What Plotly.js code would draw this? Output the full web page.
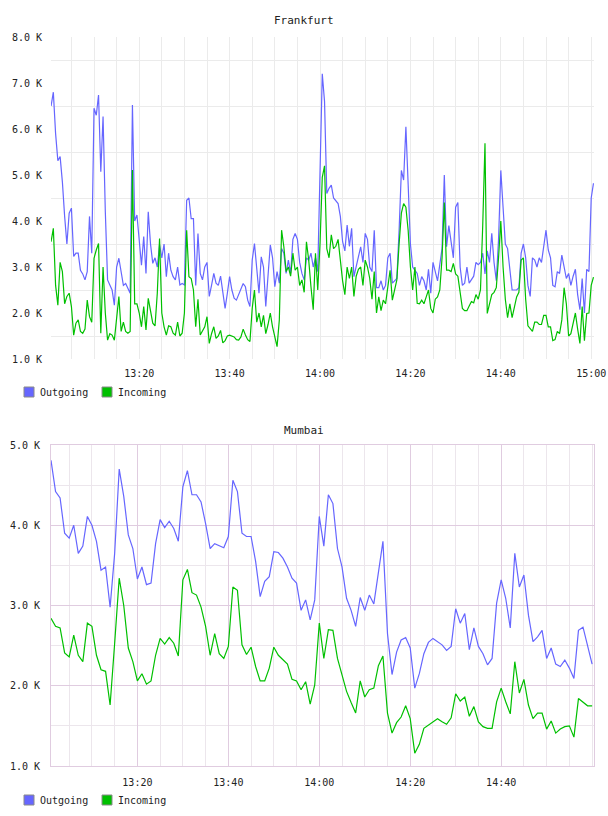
<!DOCTYPE html>
<html>
<head>
<meta charset="utf-8">
<script src="https://cdn.plot.ly/plotly-3.0.1.min.js"></script>
<style>
  html, body { margin: 0; padding: 0; background: #ffffff; }
  #chart { width: 608px; height: 816px; }
</style>
</head>
<body>
<div id="chart"></div>
<script>
// Network throughput per site, in K.
const seriesNames = ['Outgoing', 'Incoming'];
const seriesColors = ['#6666ff', '#00c000'];

// Frankfurt: one sample every 30 s starting at 13:00:30
const frankfurtStart = '13:00:30';
const frankfurtStep = 30;
const frankfurtOutgoing = [
  6.5, 6.8, 5.9, 5.31, 5.4, 4.85, 4.1, 3.5, 4.17, 4.28,
  3.23, 3.3, 3.3, 2.93, 2.85, 2.72, 2.9, 4.1, 3.3, 6.45,
  6.3, 6.74, 5.07, 6.27, 4.2, 2.72, 2.61, 2.5, 2.17, 3.0,
  3.19, 2.86, 2.6, 2.64, 2.55, 2.43, 6.52, 4.0, 4.13, 3.59,
  3.04, 3.66, 2.86, 4.2, 3.5, 3.08, 3.2, 3.0, 3.48, 3.2,
  3.5, 2.79, 3.3, 2.93, 2.79, 2.72, 3.0, 2.61, 2.64, 2.61,
  4.45, 4.5, 4.05, 4.05, 2.6, 3.73, 2.86, 2.72, 3.0, 3.1,
  2.36, 2.6, 2.86, 2.65, 2.6, 2.8, 2.5, 2.1, 2.43, 2.79,
  2.5, 2.32, 2.28, 2.39, 2.5, 2.64, 2.57, 2.28, 2.14, 3.15,
  3.51, 2.9, 2.43, 3.22, 3.0, 2.14, 2.9, 3.48, 3.2, 2.57,
  2.9, 2.65, 3.4, 3.3, 2.86, 3.15, 2.86, 3.6, 3.73, 3.6,
  3.1, 2.86, 2.72, 3.2, 3.15, 3.3, 3.0, 3.2, 2.9, 4.89,
  7.2, 6.6, 4.6, 4.71, 4.78, 4.5, 4.45, 4.38, 4.1, 3.55,
  3.35, 3.91, 3.45, 3.84, 2.79, 3.0, 3.2, 3.44, 3.1, 3.73,
  3.6, 3.0, 2.9, 3.8, 2.55, 2.55, 2.7, 2.5, 2.6, 3.2,
  3.3, 2.65, 2.7, 2.75, 3.8, 5.1, 4.89, 6.05, 4.8, 3.5,
  3.0, 2.93, 2.86, 2.6, 2.79, 2.7, 2.5, 2.95, 2.43, 3.1,
  2.86, 2.7, 3.05, 3.4, 5.0, 3.44, 3.9, 3.5, 3.2, 4.3,
  4.4, 3.0, 2.6, 2.65, 3.0, 2.65, 2.72, 2.8, 3.1, 3.05,
  3.1, 3.3, 2.85, 3.35, 3.1, 3.73, 3.1, 2.7, 3.6, 5.1,
  4.3, 3.5, 3.4, 3.0, 2.5, 2.5, 2.5, 2.55, 3.3, 3.5,
  3.2, 2.6, 2.36, 3.2, 3.15, 3.0, 3.2, 3.1, 3.4, 3.8,
  3.37, 3.2, 2.6, 2.57, 2.9, 2.86, 3.26, 3.0, 2.75, 2.86,
  2.6, 2.8, 2.95, 2.4, 2.07, 2.75, 2.0, 2.95, 2.9, 4.5,
  4.82
];
const frankfurtIncoming = [
  3.55, 3.84, 2.6, 2.17, 3.1, 2.9, 2.2, 2.36, 2.43, 2.14,
  1.52, 1.78, 1.85, 1.6, 1.56, 1.65, 2.28, 1.92, 1.8, 3.19,
  3.37, 3.51, 1.56, 3.0, 2.0, 1.41, 1.55, 1.52, 1.41, 1.88,
  2.36, 1.6, 1.8, 1.6, 1.56, 1.6, 5.11, 2.2, 2.2, 2.0,
  1.7, 2.14, 1.63, 2.32, 2.0, 1.78, 1.72, 2.43, 3.62, 2.0,
  1.7, 1.52, 1.72, 1.7, 1.56, 1.52, 1.8, 1.5, 1.56, 2.0,
  3.8, 2.79, 2.75, 2.5, 1.7, 2.3, 1.52, 1.6, 1.7, 1.92,
  1.34, 1.55, 1.7, 1.45, 1.5, 1.62, 1.35, 1.4, 1.5, 1.52,
  1.5, 1.48, 1.42, 1.41, 1.48, 1.65, 1.52, 1.42, 1.38, 2.1,
  2.5, 1.8, 2.0, 1.7, 1.95, 1.55, 1.75, 2.0, 1.7, 1.48,
  1.27, 1.85, 3.8, 3.44, 2.9, 3.0, 2.8, 3.3, 2.93, 3.0,
  2.6, 2.72, 2.45, 3.55, 3.15, 2.57, 2.07, 3.3, 2.5, 3.5,
  4.95, 5.2, 3.4, 3.2, 3.7, 3.4, 3.45, 3.6, 3.1, 2.7,
  2.4, 3.0, 2.75, 3.0, 2.36, 2.8, 2.95, 3.0, 2.6, 3.15,
  3.0, 2.75, 2.3, 2.9, 2.0, 2.35, 2.05, 2.28, 2.2, 2.55,
  2.93, 2.28, 2.5, 2.72, 3.5, 4.17, 4.38, 4.3, 3.8, 3.0,
  2.5, 3.0, 2.21, 2.2, 2.28, 2.2, 2.35, 2.5, 2.1, 2.0,
  2.3, 2.35, 2.5, 3.2, 4.4, 2.93, 2.93, 2.9, 3.08, 2.85,
  2.8, 2.5, 2.1, 2.05, 2.05, 2.15, 2.25, 2.22, 2.4, 2.3,
  2.5, 3.9, 5.69, 1.99, 2.2, 2.4, 2.45, 2.55, 3.2, 4.0,
  3.0, 2.3, 1.9, 2.2, 1.9, 2.15, 2.35, 2.45, 3.15, 3.2,
  2.3, 1.72, 1.65, 1.6, 1.8, 1.8, 1.75, 1.75, 1.95, 1.95,
  1.7, 1.7, 1.4, 1.42, 1.6, 1.55, 1.85, 2.55, 2.2, 1.5,
  1.55, 1.8, 2.0, 1.65, 1.34, 2.14, 1.4, 1.99, 2.0, 2.6,
  2.78
];

// Mumbai: one sample per minute starting at 13:01
const mumbaiStart = '13:01:00';
const mumbaiStep = 60;
const mumbaiOutgoing = [
  4.81, 4.42, 4.34, 3.9, 3.84, 4.0, 3.65, 3.74, 4.11, 4.0,
  3.8, 3.44, 3.48, 2.98, 3.65, 4.7, 4.36, 3.88, 3.71, 3.33,
  3.48, 3.26, 3.28, 3.77, 4.07, 3.97, 4.05, 3.96, 3.8, 4.48,
  4.68, 4.38, 4.38, 4.29, 4.02, 3.71, 3.77, 3.74, 3.72, 3.86,
  4.56, 4.42, 3.9, 3.86, 3.86, 3.55, 3.11, 3.3, 3.36, 3.67,
  3.66, 3.59, 3.48, 3.34, 3.28, 2.94, 3.07, 2.82, 3.07, 4.11,
  3.74, 4.38, 4.27, 3.71, 3.48, 3.09, 2.94, 2.74, 3.1, 2.94,
  3.13, 3.02, 3.4, 3.8, 2.65, 2.14, 2.42, 2.57, 2.6, 2.47,
  1.97, 2.15, 2.4, 2.54, 2.59, 2.55, 2.51, 2.44, 2.49, 2.96,
  2.78, 2.9, 2.45, 2.72, 2.49, 2.4, 2.26, 2.34, 3.03, 3.32,
  3.09, 2.72, 3.65, 3.23, 3.38, 2.88, 2.55, 2.61, 2.69, 2.34,
  2.47, 2.27, 2.24, 2.32, 2.22, 2.09, 2.69, 2.73, 2.49, 2.27
];
const mumbaiIncoming = [
  2.84, 2.74, 2.72, 2.41, 2.36, 2.63, 2.38, 2.30, 2.78, 2.74,
  2.38, 2.2, 2.18, 1.76, 2.53, 3.34, 3.0, 2.47, 2.30, 2.06,
  2.15, 2.02, 2.06, 2.38, 2.59, 2.52, 2.60, 2.53, 2.37, 3.32,
  3.45, 3.16, 3.13, 2.98, 2.74, 2.38, 2.65, 2.40, 2.34, 2.49,
  3.23, 3.19, 2.51, 2.39, 2.48, 2.24, 2.06, 2.06, 2.22, 2.48,
  2.38, 2.33, 2.27, 2.08, 2.06, 1.95, 2.05, 1.77, 2.01, 2.78,
  2.34, 2.70, 2.69, 2.34, 2.13, 1.93, 1.79, 1.66, 2.06, 1.86,
  1.95, 1.97, 2.25, 2.37, 1.66, 1.41, 1.54, 1.61, 1.75, 1.59,
  1.16, 1.27, 1.47, 1.51, 1.55, 1.59, 1.55, 1.52, 1.6, 1.9,
  1.81, 1.86, 1.62, 1.74, 1.55, 1.49, 1.47, 1.47, 1.80, 1.97,
  1.80, 1.65, 2.3, 1.91, 2.08, 1.76, 1.59, 1.66, 1.66, 1.46,
  1.56, 1.41, 1.46, 1.49, 1.5, 1.36, 1.84, 1.80, 1.75, 1.75
];

// Axis labels
const frankfurtTimeTicks = ['13:20', '13:40', '14:00', '14:20', '14:40', '15:00'];
const mumbaiTimeTicks = ['13:20', '13:40', '14:00', '14:20', '14:40'];
const frankfurtValueTicks = [1, 2, 3, 4, 5, 6, 7, 8];
const mumbaiValueTicks = [1, 2, 3, 4, 5];
const siteTitles = ['Frankfurt', 'Mumbai'];

// ---- helpers ----
const DAY = '2024-01-01 ';
function toSec(hms) {
  const p = hms.split(':').map(Number);
  return p[0] * 3600 + p[1] * 60 + (p[2] || 0);
}
function stamp(sec) {
  const pad = n => String(n).padStart(2, '0');
  return DAY + pad(Math.floor(sec / 3600)) + ':' + pad(Math.floor(sec / 60) % 60) + ':' + pad(sec % 60);
}
function timeline(start, step, n) {
  const s0 = toSec(start);
  return Array.from({ length: n }, (_, i) => stamp(s0 + i * step));
}
const kLabel = v => v.toFixed(1) + ' K';

const FONT = 'DejaVu Sans Mono, monospace';
const W = 608, H = 816;
const px = x => x / W;
const py = y => 1 - y / H;

const fx = timeline(frankfurtStart, frankfurtStep, frankfurtOutgoing.length);
const mx = timeline(mumbaiStart, mumbaiStep, mumbaiOutgoing.length);

function lineTrace(x, y, k, xa, ya) {
  return {
    type: 'scatter', mode: 'lines', x: x, y: y, name: seriesNames[k],
    line: { color: seriesColors[k], width: 1.2 },
    xaxis: xa, yaxis: ya, showlegend: false, hoverinfo: 'skip'
  };
}

const data = [
  lineTrace(fx, frankfurtOutgoing, 0, 'x', 'y'),
  lineTrace(fx, frankfurtIncoming, 1, 'x', 'y'),
  lineTrace(mx, mumbaiOutgoing, 0, 'x2', 'y2'),
  lineTrace(mx, mumbaiIncoming, 1, 'x2', 'y2')
];

// Colour keys under each panel: swatch + series name
const keyRows = [392, 800];      // vertical centre of each key row (px)
const keyLeft = 24, keyGap = 78, swatch = 10;
const keyShapes = [], keyNotes = [];
keyRows.forEach(rowY => {
  seriesNames.forEach((name, k) => {
    const x0 = keyLeft + k * keyGap;
    keyShapes.push({
      type: 'rect', xref: 'paper', yref: 'paper',
      x0: px(x0), x1: px(x0 + swatch), y0: py(rowY + swatch / 2), y1: py(rowY - swatch / 2),
      fillcolor: seriesColors[k], line: { color: '#8a8a8a', width: 1 }, layer: 'above'
    });
    keyNotes.push({
      text: name, xref: 'paper', yref: 'paper',
      x: px(x0 + swatch + 4), y: py(rowY), xanchor: 'left', yanchor: 'middle',
      showarrow: false, font: { family: FONT, size: 10, color: '#222222' }
    });
  });
});

const tickFont = { family: FONT, size: 10, color: '#222222' };
const topGrid = '#ebebeb';
const mMajor = '#e0cce0';
const mMinor = '#ece6ec';

const layout = {
  width: W, height: H,
  margin: { l: 0, r: 0, t: 0, b: 0 },
  paper_bgcolor: '#ffffff',
  plot_bgcolor: '#ffffff',
  showlegend: false,
  font: { family: FONT, size: 10, color: '#222222' },
  xaxis: {
    domain: [px(51), px(594)], anchor: 'y', type: 'date',
    range: [DAY + '13:00:29', DAY + '15:00:37'],
    tickmode: 'array',
    tickvals: frankfurtTimeTicks.map(t => DAY + t),
    ticktext: frankfurtTimeTicks,
    showgrid: true, gridcolor: topGrid, gridwidth: 1,
    minor: { dtick: 300000, showgrid: true, gridcolor: topGrid, gridwidth: 1 },
    showline: false, zeroline: false, ticks: '', ticklabelstandoff: 7,
    tickfont: tickFont, fixedrange: true
  },
  yaxis: {
    domain: [py(359), py(37)], anchor: 'x',
    range: [1, 8],
    tickmode: 'array',
    tickvals: frankfurtValueTicks,
    ticktext: frankfurtValueTicks.map(kLabel),
    showgrid: false,
    minor: { tick0: 0.5, dtick: 1, showgrid: true, gridcolor: topGrid, gridwidth: 1 },
    showline: false, zeroline: false, ticks: '', ticklabelstandoff: 8,
    tickfont: tickFont, fixedrange: true
  },
  xaxis2: {
    domain: [px(51), px(594)], anchor: 'y2', type: 'date',
    range: [DAY + '13:01:00', DAY + '15:00:25'],
    tickmode: 'array',
    tickvals: mumbaiTimeTicks.map(t => DAY + t),
    ticktext: mumbaiTimeTicks,
    showgrid: true, gridcolor: mMajor, gridwidth: 1,
    minor: { dtick: 300000, showgrid: true, gridcolor: mMinor, gridwidth: 1 },
    showline: true, mirror: true, linecolor: mMajor, linewidth: 1,
    zeroline: false, ticks: '', ticklabelstandoff: 7,
    tickfont: tickFont, fixedrange: true
  },
  yaxis2: {
    domain: [py(766), py(445)], anchor: 'x2',
    range: [1, 5],
    tickmode: 'array',
    tickvals: mumbaiValueTicks,
    ticktext: mumbaiValueTicks.map(kLabel),
    showgrid: true, gridcolor: mMajor, gridwidth: 1,
    minor: { tick0: 0.5, dtick: 0.5, showgrid: true, gridcolor: mMinor, gridwidth: 1 },
    showline: true, mirror: true, linecolor: mMajor, linewidth: 1,
    zeroline: false, ticks: '', ticklabelstandoff: 8,
    tickfont: tickFont, fixedrange: true
  },
  shapes: keyShapes,
  annotations: siteTitles.map((t, i) => ({
    text: t, xref: 'paper', yref: 'paper', x: 0.5, y: py(i === 0 ? 20 : 430),
    xanchor: 'center', yanchor: 'middle', showarrow: false,
    font: { family: FONT, size: 11, color: '#222222' }
  })).concat(keyNotes)
};

Plotly.newPlot('chart', data, layout, { staticPlot: true, displayModeBar: false });
</script>
</body>
</html>
